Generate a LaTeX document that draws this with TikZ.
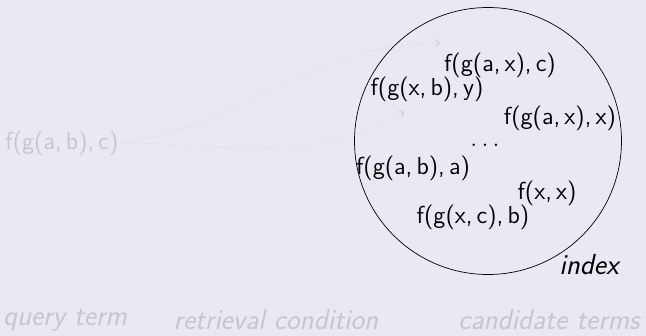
\documentclass[tikz,border=0pt]{standalone}
\usepackage{xcolor}
\usetikzlibrary{positioning}
\usetikzlibrary{arrows.meta}

\definecolor{slidebg}{RGB}{233,233,243}
\definecolor{faded}{RGB}{198,198,210}

\begin{document}
\begin{tikzpicture}[
            every node/.style={font=\sffamily\fontsize{14}{16}\selectfont, inner sep=1pt},
            faded term/.style={text=faded},
            caption/.style={font=\sffamily\itshape\fontsize{16.5}{19}\selectfont},
            arrow style/.style={-{To[scale=0.9]}, dotted, draw=faded}
        ]
        \fill[slidebg] (0,0) rectangle (12.92,6.72);

        \node[draw, circle, minimum size=5.34cm] (index) at (9.76,3.9) {};

        \node[faded term] (query) at (1.24,3.86) {f(g(a,\,b),\,c)};

        \node (t1) at (10.0,5.42) {f(g(a,\,x),\,c)};
        \node (t2) at (8.54,4.94) {f(g(x,\,b),\,y)};
        \node (t3) at (11.2,4.36) {f(g(a,\,x),\,x)};
        \node (dots) at (9.7,3.82) {$\ldots$};
        \node (t4) at (8.26,3.36) {f(g(a,\,b),\,a)};
        \node (t5) at (10.94,2.86) {f(x,\,x)};
        \node (t6) at (9.46,2.38) {f(g(x,\,c),\,b)};
        \node[caption] (idx) at (11.78,1.42) {index};

        \node[caption, faded term] (qlabel) at (1.3,0.32) {query term};
        \node[caption, faded term] (rlabel) at (5.52,0.32) {retrieval condition};
        \node[caption, faded term] (clabel) at (10.98,0.32) {candidate terms};

        \coordinate (hit1) at (8.8,5.86);
        \coordinate (hit2) at (8.08,4.48);

        \draw[arrow style] (query.east) to [out=8, in=180] (hit1);
        \draw[arrow style] (query.east) to [out=0, in=210] (hit2);
        \end{tikzpicture}
\end{document}
